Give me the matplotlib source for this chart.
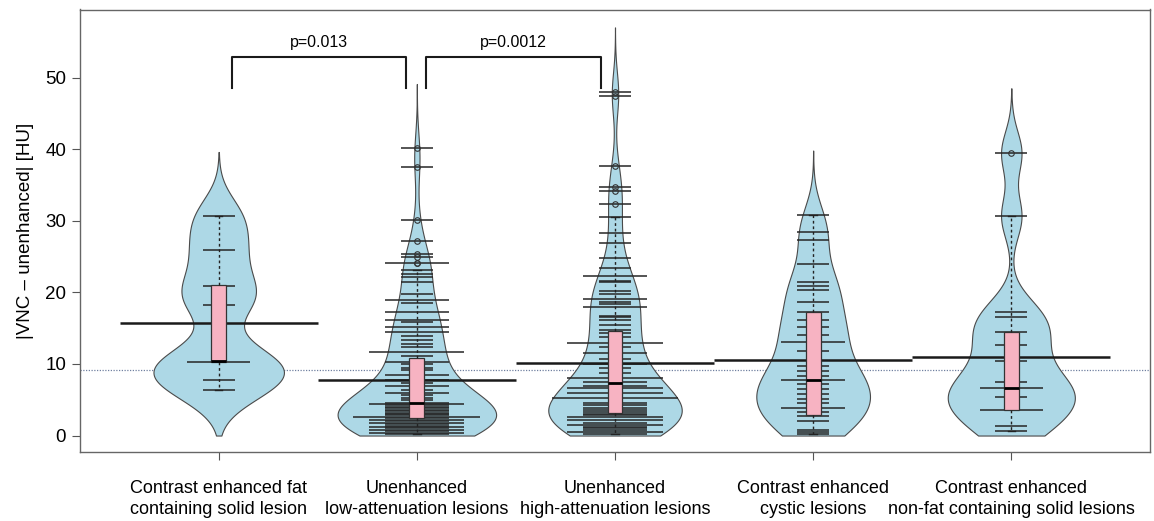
import numpy as np
import matplotlib.pyplot as plt

# Group labels
categories = ["Contrast enhanced fat\ncontaining solid lesion",
              "Unenhanced\nlow-attenuation lesions",
              "Unenhanced\nhigh-attenuation lesions",
              "Contrast enhanced\ncystic lesions",
              "Contrast enhanced\nnon-fat containing solid lesions"]

# Observed values (|VNC - unenhanced| in HU) and how many cases share each value
g1_values = [6.4, 7.8, 10.3, 18.3, 20.9, 25.9, 30.6]
g1_counts = [1, 1, 2, 1, 1, 1, 1]

g2_values = [0.2, 0.4, 0.6, 0.8, 1.0, 1.2, 1.4, 1.6, 1.8, 2.0, 2.2, 2.4, 2.6, 2.8,
             3.0, 3.2, 3.4, 3.6, 3.8, 4.0, 4.2, 4.4, 4.6, 4.9, 5.2, 5.6, 5.9, 6.4,
             6.9, 7.3, 7.8, 8.5, 9.2, 9.5, 10.0, 10.3, 11.1, 11.7, 12.3, 12.8, 13.4,
             13.9, 14.4, 15.1, 15.8, 16.1, 17.3, 18.5, 18.9, 19.8, 21.5, 22.1, 22.6,
             23.1, 24.1, 25.0, 25.3, 27.2, 30.1, 37.5, 40.1]
g2_counts = [2, 3, 2, 3, 2, 3, 2, 2, 3, 2, 3, 2, 4, 2,
             2, 2, 2, 2, 2, 2, 2, 3, 2, 1, 1, 1, 2, 1,
             2, 1, 2, 2, 1, 1, 1, 2, 1, 3, 1, 1, 1,
             1, 2, 2, 1, 2, 2, 1, 2, 1, 1, 1, 1,
             1, 2, 1, 1, 1, 1, 1, 1]

g3_values = [0.25, 0.55, 0.8, 1.0, 1.2, 1.5, 1.8, 2.1, 2.55, 2.8, 3.0, 3.3, 3.6, 3.9,
             4.2, 4.6, 5.3, 5.9, 6.6, 6.9, 7.5, 8.0, 8.8, 9.4, 9.95, 10.65, 11.5,
             12.3, 12.9, 13.8, 14.3, 14.75, 15.45, 16.1, 16.5, 16.7, 17.9, 18.4,
             18.6, 19.0, 19.8, 20.2, 21.4, 21.6, 22.3, 23.35, 24.8, 26.9, 28.3,
             30.55, 32.4, 34.1, 34.7, 37.6, 47.4, 48.0]
g3_counts = [2, 3, 2, 2, 2, 3, 2, 3, 3, 2, 2, 2, 2, 2,
             2, 2, 4, 3, 3, 2, 2, 3, 1, 1, 2, 1, 2,
             1, 3, 1, 1, 1, 1, 1, 1, 1, 2, 1,
             1, 2, 1, 1, 1, 1, 2, 1, 1, 1, 1,
             1, 1, 1, 1, 1, 1, 1]

g4_values = [0.2, 0.5, 0.8, 2.0, 2.7, 3.3, 3.9, 4.5, 5.1, 5.8, 6.5, 7.2, 7.8, 8.3,
             9.0, 9.7, 11.8, 13.0, 14.1, 15.1, 16.1, 17.2, 18.6, 20.3, 20.9, 21.4,
             23.9, 27.3, 28.4, 30.8]
g4_counts = [1, 1, 1, 1, 1, 1, 2, 1, 1, 1, 1, 1, 2, 1,
             1, 1, 1, 2, 1, 1, 1, 1, 1, 1, 1, 1,
             1, 1, 1, 1]

g5_values = [0.6, 1.3, 3.6, 5.4, 6.6, 7.5, 10.4, 12.6, 14.4, 16.5, 17.2, 30.6, 39.5]
g5_counts = [1, 1, 2, 1, 2, 1, 1, 1, 1, 1, 1, 1, 1]

group_values = [g1_values, g2_values, g3_values, g4_values, g5_values]
group_counts = [g1_counts, g2_counts, g3_counts, g4_counts, g5_counts]

# group means and overall mean
group_means = [15.7, 7.8, 10.1, 10.6, 10.9]
overall_mean = 9.2

# boxplot statistics
box_whislo = [6.4, 0.2, 0.25, 0.2, 0.6]
box_q1 = [10.3, 2.5, 3.1, 2.8, 3.6]
box_med = [10.35, 4.6, 7.3, 7.8, 6.6]
box_q3 = [21.0, 10.8, 14.6, 17.2, 14.4]
box_whishi = [30.6, 23.1, 30.55, 30.8, 30.6]

# significance labels
sig_labels = ["p=0.013", "p=0.0012"]

bw = 3.0
line_len = 0.16
max_width = 0.8

fig = plt.figure(figsize=(11.54, 5.21), dpi=100)
ax = fig.add_axes([80 / 1154, 1 - 452 / 521, (1150 - 80) / 1154, (452 - 9.5) / 521])

# overall mean line (behind the beans)
ax.axhline(overall_mean, color='#7080a0', lw=0.9, ls=(0, (1, 1.2)), zorder=1)

# densities
grids, dens = [], []
for vals, cnts in zip(group_values, group_counts):
    v = np.repeat(vals, cnts)
    grid = np.linspace(0, max(vals) + 3 * bw, 400)
    z = (grid[:, None] - v[None, :]) / bw
    d = np.exp(-0.5 * z ** 2).sum(axis=1) / (len(v) * bw * np.sqrt(2 * np.pi))
    grids.append(grid)
    dens.append(d)
scale = max_width / max(d.max() for d in dens)

for i, (vals, cnts) in enumerate(zip(group_values, group_counts)):
    pos = i + 1
    half = dens[i] * scale / 2
    ax.fill_betweenx(grids[i], pos - half, pos + half, facecolor='#add8e6',
                     edgecolor='#4a4a4a', lw=0.8, zorder=2)
    for v, c in zip(vals, cnts):
        ax.hlines(v, pos - c * line_len / 2, pos + c * line_len / 2,
                  color='#262626', lw=1.1, zorder=3)
    ax.hlines(group_means[i], pos - 0.5, pos + 0.5, color='#1a1a1a', lw=1.8, zorder=4)

# boxplots on top
stats = []
for i in range(5):
    v = np.repeat(group_values[i], group_counts[i])
    fl = v[(v > box_whishi[i]) | (v < box_whislo[i])]
    stats.append(dict(whislo=box_whislo[i], q1=box_q1[i], med=box_med[i],
                      q3=box_q3[i], whishi=box_whishi[i], fliers=fl))
ax.bxp(stats, positions=range(1, 6), widths=0.075, patch_artist=True,
       boxprops=dict(facecolor='#f7b3c2', edgecolor='#333333', lw=0.9),
       medianprops=dict(color='black', lw=2),
       whiskerprops=dict(color='#222222', lw=1, ls=(0, (2, 2))),
       capprops=dict(color='#222222', lw=1),
       flierprops=dict(marker='o', markersize=4, markerfacecolor='none',
                       markeredgecolor='#333333', markeredgewidth=0.8),
       zorder=5)

# significance brackets
bracket_x = [(1.066, 1.946), (2.047, 2.929)]
for (x0, x1), lab in zip(bracket_x, sig_labels):
    ax.plot([x0, x0, x1, x1], [48.6, 52.9, 52.9, 48.6], color='#1a1a1a', lw=1.5,
            zorder=6)
    ax.text((x0 + x1) / 2, 54.95, lab, ha='center', va='center', fontsize=11.5,
            family='Liberation Sans')

ax.set_xlim(0.3, 5.7)
ax.set_ylim(-2.3, 59.5)
ax.set_yticks([0, 10, 20, 30, 40, 50])
ax.set_yticklabels(['0', '10', '20', '30', '40', '50'], fontsize=13.5,
                   family='Liberation Sans')
ax.set_xticks(range(1, 6))
ax.set_xticklabels(categories, fontsize=13, family='Liberation Sans',
                   linespacing=1.35)
ax.tick_params(axis='x', length=6, pad=14, color='#555555')
ax.tick_params(axis='y', length=6, pad=4, color='#555555')
ax.set_ylabel('|VNC \u2013 unenhanced| [HU]', fontsize=13.5, family='Liberation Sans',
              labelpad=8)
for s in ax.spines.values():
    s.set_color('#666666')
    s.set_linewidth(1)

fig.savefig('out.png', dpi=100)
